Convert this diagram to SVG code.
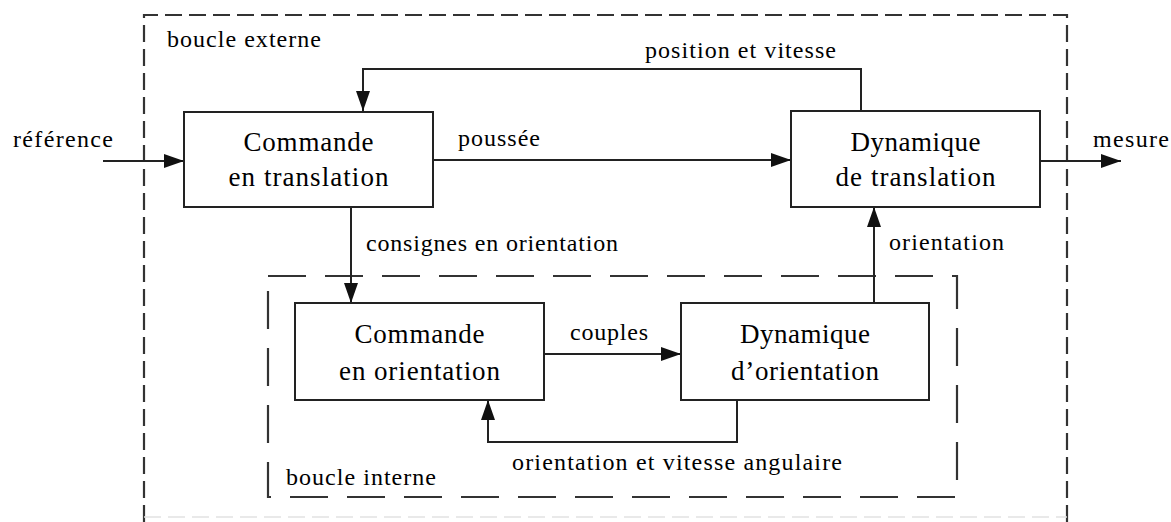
<svg xmlns="http://www.w3.org/2000/svg" width="1171" height="522" viewBox="0 0 1171 522">
<style>
text{font-family:"Liberation Serif","Times New Roman",serif;fill:#000}
.bt{font-size:27px;text-anchor:middle}
.lb{font-size:24px}
.box{fill:#fff;stroke:#222;stroke-width:2}
.con{fill:none;stroke:#222;stroke-width:2}
.outer{fill:none;stroke:#333;stroke-width:2.2;stroke-dasharray:17 7}
.inner{fill:none;stroke:#333;stroke-width:2.2;stroke-dasharray:38 19}
</style>
<defs>
<marker id="ah" markerUnits="userSpaceOnUse" markerWidth="20" markerHeight="14" refX="20" refY="7" orient="auto">
<path d="M0,0 L20,7 L0,14 z" fill="#111"/>
</marker>
</defs>
<g id="outer-loop">
<path class="outer" d="M144,522 V15 H1067 V522"/>
<line x1="144" y1="517" x2="1067" y2="517" stroke="#e2e2e2" stroke-width="1.5" stroke-dasharray="17 7"/>
<text class="lb" x="167" y="47" textLength="154" lengthAdjust="spacing">boucle externe</text>
</g>
<g id="inner-loop">
<rect class="inner" x="268" y="276" width="689" height="221"/>
<text class="lb" x="286" y="485" textLength="150" lengthAdjust="spacing">boucle interne</text>
</g>
<g id="connectors">
<path class="con" d="M103,161 H184" marker-end="url(#ah)"/>
<path class="con" d="M433,160 H791" marker-end="url(#ah)"/>
<path class="con" d="M1040,161 H1121" marker-end="url(#ah)"/>
<path class="con" d="M861,111 V69 H363 V111" marker-end="url(#ah)"/>
<path class="con" d="M351,207 V303" marker-end="url(#ah)"/>
<path class="con" d="M874,303 V207" marker-end="url(#ah)"/>
<path class="con" d="M544,354 H681" marker-end="url(#ah)"/>
<path class="con" d="M737,400 V442 H488 V400" marker-end="url(#ah)"/>
<text class="lb" x="13" y="147" textLength="100" lengthAdjust="spacing">référence</text>
<text class="lb" x="458" y="146" textLength="82" lengthAdjust="spacing">poussée</text>
<text class="lb" x="1093" y="147" textLength="76" lengthAdjust="spacing">mesure</text>
<text class="lb" x="645" y="58" textLength="191" lengthAdjust="spacing">position et vitesse</text>
<text class="lb" x="366" y="251" textLength="252" lengthAdjust="spacing">consignes en orientation</text>
<text class="lb" x="889" y="250" textLength="115" lengthAdjust="spacing">orientation</text>
<text class="lb" x="570" y="340" textLength="78" lengthAdjust="spacing">couples</text>
<text class="lb" x="512" y="470" textLength="330" lengthAdjust="spacing">orientation et vitesse angulaire</text>
</g>
<g id="commande-translation">
<rect class="box" x="184" y="112" width="249" height="95"/>
<text class="bt" x="308.5" y="151" textLength="130" lengthAdjust="spacing">Commande</text>
<text class="bt" x="308.5" y="186" textLength="160" lengthAdjust="spacing">en translation</text>
</g>
<g id="dynamique-translation">
<rect class="box" x="791" y="111" width="249" height="96"/>
<text class="bt" x="915.5" y="151" textLength="130" lengthAdjust="spacing">Dynamique</text>
<text class="bt" x="915.5" y="186" textLength="160" lengthAdjust="spacing">de translation</text>
</g>
<g id="commande-orientation">
<rect class="box" x="295" y="303" width="249" height="97"/>
<text class="bt" x="419.5" y="343" textLength="130" lengthAdjust="spacing">Commande</text>
<text class="bt" x="419.5" y="380" textLength="161" lengthAdjust="spacing">en orientation</text>
</g>
<g id="dynamique-orientation">
<rect class="box" x="681" y="303" width="248" height="97"/>
<text class="bt" x="805" y="343" textLength="130" lengthAdjust="spacing">Dynamique</text>
<text class="bt" x="805" y="380" textLength="148" lengthAdjust="spacing">d’orientation</text>
</g>
</svg>
